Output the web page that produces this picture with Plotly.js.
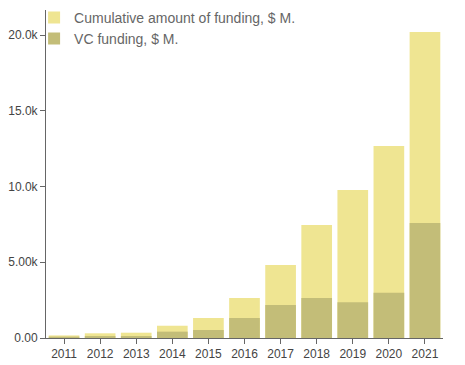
<!DOCTYPE html>
<html><head><meta charset="utf-8">
<script src="https://cdn.plot.ly/plotly-3.0.1.min.js"></script>
<style>html,body{margin:0;padding:0;background:#fff}#chart{width:465px;height:365px}</style>
</head><body><div id="chart"></div>
<script>
const years = ['2011','2012','2013','2014','2015','2016','2017','2018','2019','2020','2021'];
const cumulativeFunding = [170, 310, 350, 810, 1320, 2640, 4820, 7460, 9770, 12670, 20200];
const vcFunding = [90, 130, 130, 420, 530, 1320, 2180, 2640, 2360, 2990, 7590];

const data = [
  {type:'bar', x: years, y: cumulativeFunding, name:'Cumulative amount of funding, $ M.',
   marker:{color:'#efe592'}},
  {type:'bar', x: years, y: vcFunding, name:'VC funding, $ M.',
   marker:{color:'#c3bd78'}}
];
const layout = {
  width:465, height:365,
  margin:{l:46, r:22, t:10, b:27, autoexpand:false},
  barmode:'overlay', bargap:0.15,
  paper_bgcolor:'#fff', plot_bgcolor:'#fff',
  font:{family:'Liberation Sans, Arial, sans-serif', size:12, color:'#444'},
  showlegend:true,
  legend:{x:-0.03, y:1.025, xanchor:'left', yanchor:'top', bgcolor:'rgba(0,0,0,0)',
          font:{size:14, color:'#666'}, traceorder:'normal', itemwidth:30, tracegroupgap:0},
  xaxis:{type:'category', showline:true, linecolor:'#666', linewidth:1, ticks:'outside', ticklen:5,
         tickcolor:'#666', showgrid:false, zeroline:false},
  yaxis:{range:[0,21650], tickformat:'.3s', tickvals:[0,5000,10000,15000,20000],
         showline:true, linecolor:'#666', linewidth:1, ticks:'outside', ticklen:5, tickcolor:'#666',
         showgrid:false, zeroline:false}
};
Plotly.newPlot('chart', data, layout, {displayModeBar:false, staticPlot:true});
</script></body></html>
